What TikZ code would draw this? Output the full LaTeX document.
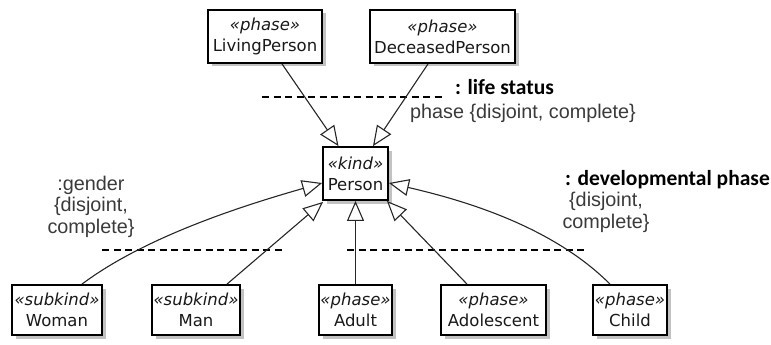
\documentclass[tikz,border=0pt]{standalone}
\usepackage{fontspec}
\setmainfont{DejaVu Sans}
\newfontfamily\labfont{Liberation Sans}
\newfontfamily\boldlabfont{Carlito}
\usetikzlibrary{arrows.meta,shadows}
\definecolor{labgray}{HTML}{3A3A3A}
\begin{document}
\begin{tikzpicture}[x=1pt,y=-1pt,
  cls/.style={draw=black, line width=1.8pt, fill=white, align=center, inner sep=0pt,
    font=\fontsize{16.5}{21}\selectfont, text=black!90,
    drop shadow={shadow xshift=3.5pt, shadow yshift=-3.5pt, opacity=0.4, fill=black!60}},
  gen/.style={draw=black!85, line width=1.1pt, -{Triangle[open, fill=white, length=20pt, width=17pt]}},
  sep/.style={draw=black, line width=2.2pt, dash pattern=on 7pt off 4.5pt},
  glab/.style={font=\labfont\fontsize{19.8}{21.5}\selectfont, text=labgray, inner sep=0pt, align=center},
  blab/.style={font=\boldlabfont\bfseries\fontsize{21.5}{24}\selectfont, text=black, inner sep=0pt}]
\useasboundingbox (0,0) rectangle (771,345);

% class boxes
\node[cls, minimum width=114pt, minimum height=53pt] (living) at (265,36.5) {\textit{«phase»}\\LivingPerson};
\node[cls, minimum width=145pt, minimum height=53pt] (deceased) at (442.5,36.5) {\textit{«phase»}\\DeceasedPerson};
\node[cls, minimum width=65pt, minimum height=53pt] (person) at (355.5,173.5) {\textit{«kind»}\\Person};
\node[cls, minimum width=90pt, minimum height=50pt] (woman) at (57,310) {\textit{«subkind»}\\Woman};
\node[cls, minimum width=88pt, minimum height=50pt] (man) at (196,310) {\textit{«subkind»}\\Man};
\node[cls, minimum width=73pt, minimum height=50pt] (adult) at (355.5,310) {\textit{«phase»}\\Adult};
\node[cls, minimum width=105pt, minimum height=50pt] (adolescent) at (493.5,310) {\textit{«phase»}\\Adolescent};
\node[cls, minimum width=74pt, minimum height=50pt] (child) at (630,310) {\textit{«phase»}\\Child};

% generalization set separators
\draw[sep] (262,97) -- (443,97);
\draw[sep] (102,250) -- (282,250);
\draw[sep] (347,250) -- (588,250);

% generalizations
\draw[gen] ([xshift=17pt]living.south) -- ([xshift=-17pt]person.north);
\draw[gen] ([xshift=-14.5pt]deceased.south) -- ([xshift=17.5pt]person.north);
\draw[gen] ([xshift=25pt]woman.north) .. controls +(64,-48) and +(-77,22) .. ([yshift=-9.5pt]person.west);
\draw[gen] ([xshift=31pt]man.north) -- ([xshift=1pt,yshift=-1pt]person.south west);
\draw[gen] (adult.north) -- (person.south);
\draw[gen] ([xshift=-26.5pt]adolescent.north) -- ([xshift=-2pt]person.south east);
\draw[gen] ([xshift=-20pt]child.north) .. controls +(-57,-57) and +(78,18) .. ([yshift=-9.5pt]person.east);

% labels
\node[blab, anchor=base west] (lslab) at (455,95) {: life status};
\node[glab, anchor=base west] (phlab) at (410,118) {phase \{disjoint, complete\}};
\node[glab, anchor=base] (genlab) at (91,233) {:gender\\\{disjoint,\\complete\}};
\node[blab, anchor=base west] (devlab) at (565,185) {: developmental phase};
\node[glab, anchor=base] (devset) at (606,228) {\{disjoint,\\complete\}};
\end{tikzpicture}
\end{document}
